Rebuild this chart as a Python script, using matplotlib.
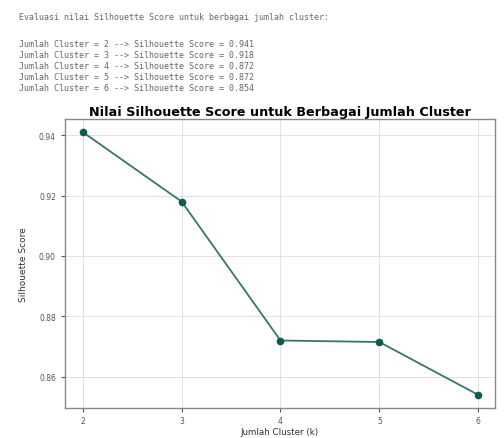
import matplotlib
matplotlib.use("Agg")
import matplotlib.pyplot as plt

k_values = [2, 3, 4, 5, 6]
scores = [0.941, 0.918, 0.872, 0.8715, 0.854]
printed_scores = ["0.941", "0.918", "0.872", "0.872", "0.854"]

fig = plt.figure(figsize=(5.04, 4.39), dpi=100)

# printed notebook output above the chart
txt_color = "#666666"
fig.text(19/504, 1 - 18/439, "Evaluasi nilai Silhouette Score untuk berbagai jumlah cluster:",
         family="DejaVu Sans Mono", fontsize=6.0, color=txt_color, va="center")
for i, (k, s) in enumerate(zip(k_values, printed_scores)):
    y = 44.5 + i * 11
    fig.text(19/504, 1 - y/439, f"Jumlah Cluster = {k} --> Silhouette Score = {s}",
             family="DejaVu Sans Mono", fontsize=6.0, color=txt_color, va="center")

ax = fig.add_axes([65/504, 1 - 409/439, (495-65)/504, (409-120)/439])
ax.plot(k_values, scores, color="#3a746c", linewidth=1.3, marker="o",
        markersize=4.5, markerfacecolor="#0e5c4e", markeredgecolor="#0e5c4e")
ax.set_xlim(1.82, 6.17)
ax.set_xticks(k_values)
ax.set_yticks([0.86, 0.88, 0.90, 0.92, 0.94])
ax.set_yticklabels(["0.86", "0.88", "0.90", "0.92", "0.94"])
ax.grid(True, color="#dddddd", linewidth=0.6)
ax.tick_params(labelsize=5.5, colors="#555555", length=3)
ax.tick_params(axis="x", pad=3)
for sp in ax.spines.values():
    sp.set_color("#888888")
    sp.set_linewidth(1.0)
ax.set_title("Nilai Silhouette Score untuk Berbagai Jumlah Cluster",
             fontsize=9.2, fontweight="bold", pad=3)
ax.set_xlabel("Jumlah Cluster (k)", fontsize=6.3, color="#333333", labelpad=1)
ax.set_ylabel("Silhouette Score", fontsize=6.5, color="#333333", labelpad=8)

fig.savefig("out.png", dpi=100)
